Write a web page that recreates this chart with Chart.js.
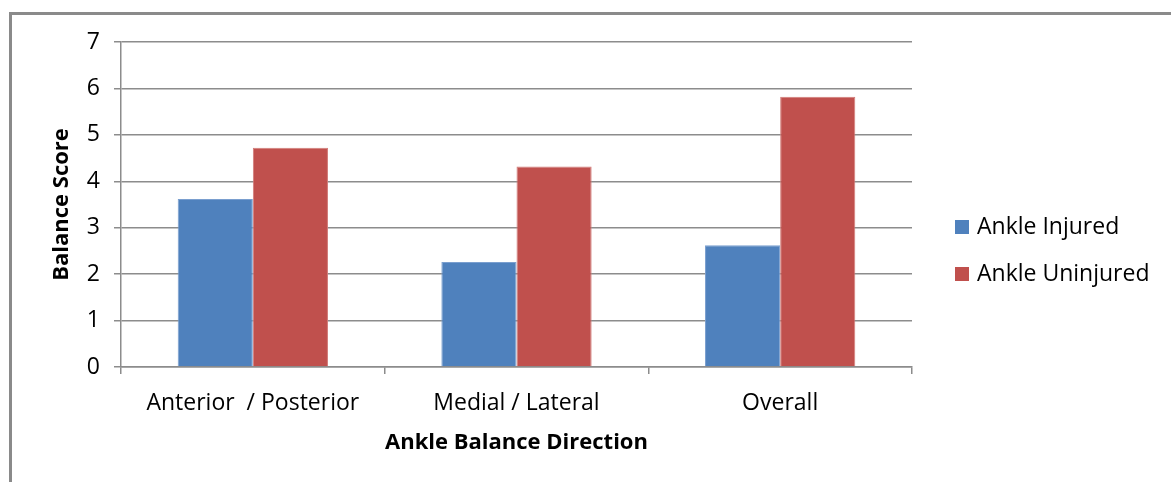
<!DOCTYPE html>
<html>
<head>
<meta charset="utf-8">
<script src="https://cdn.jsdelivr.net/npm/chart.js@4/dist/chart.umd.min.js"></script>
<style>
html,body{margin:0;padding:0;background:#fff;}
#wrap{width:1171px;height:482px;position:relative;}
</style>
</head>
<body>
<div id="wrap"><canvas id="c" width="1171" height="482"></canvas></div>
<script>
const categories = ['Anterior  / Posterior', 'Medial / Lateral', 'Overall'];
const injured = [3.62, 2.26, 2.62];
const uninjured = [4.72, 4.32, 5.82];
const seriesNames = ['Ankle Injured', 'Ankle Uninjured'];
const yTicks = [0, 1, 2, 3, 4, 5, 6, 7];
const xTitle = 'Ankle Balance Direction';
const yTitle = 'Balance Score';

const FONT = "'Open Sans', sans-serif";
const GRID = '#8c8c8c';

const framePlugin = {
  id: 'frame',
  beforeDraw(chart) {
    const ctx = chart.ctx;
    ctx.save();
    ctx.strokeStyle = '#8a8a8a';
    ctx.lineWidth = 3;
    ctx.beginPath();
    ctx.moveTo(10.5, 482);
    ctx.lineTo(10.5, 13.5);
    ctx.lineTo(1171, 13.5);
    ctx.stroke();
    ctx.restore();
  }
};

const legendPlugin = {
  id: 'customLegend',
  afterDraw(chart) {
    const ctx = chart.ctx;
    ctx.save();
    ctx.font = "23px " + FONT;
    ctx.textBaseline = 'middle';
    ctx.textAlign = 'left';
    chart.data.datasets.forEach((ds, i) => {
      const y = 227 + i * 47;
      ctx.fillStyle = ds.backgroundColor;
      ctx.fillRect(955, y - 7, 14, 14);
      ctx.fillStyle = '#000';
      ctx.fillText(ds.label, 977, y);
    });
    ctx.restore();
  }
};

new Chart(document.getElementById('c'), {
  type: 'bar',
  data: {
    labels: categories,
    datasets: [
      { label: seriesNames[0], data: injured, backgroundColor: '#4F81BD', borderColor: '#7a9fcf', borderWidth: 1, borderSkipped: 'bottom' },
      { label: seriesNames[1], data: uninjured, backgroundColor: '#C0504D', borderColor: '#d27b78', borderWidth: 1, borderSkipped: 'bottom' }
    ]
  },
  options: {
    responsive: false,
    animation: false,
    events: [],
    layout: { padding: { left: 40, right: 259, top: 42, bottom: 0 } },
    plugins: { legend: { display: false }, tooltip: { enabled: false } },
    datasets: { bar: { categoryPercentage: 0.57, barPercentage: 1.0 } },
    scales: {
      x: {
        grid: { display: true, drawOnChartArea: false, drawTicks: true, tickLength: 7, color: GRID, lineWidth: 1.5, offset: true },
        border: { display: true, color: GRID, width: 1.5 },
        ticks: { color: '#000', font: { family: FONT, size: 23 }, padding: 16, maxRotation: 0 },
        title: { display: true, text: xTitle, color: '#000', font: { family: FONT, size: 22, weight: 'bold' }, padding: { top: 0, bottom: 26 } },
        afterFit(s) { s.height = 115; }
      },
      y: {
        min: 0, max: 7,
        afterBuildTicks(s) { s.ticks = yTicks.map(v => ({ value: v })); },
        grid: { color: GRID, lineWidth: 1.5, drawTicks: true, tickLength: 7 },
        border: { display: true, color: GRID, width: 1.5 },
        ticks: { color: '#000', font: { family: FONT, size: 23 }, padding: 14 },
        title: { display: true, text: yTitle, color: '#000', font: { family: FONT, size: 22, weight: 'bold' }, padding: { top: 9, bottom: 0 } },
        afterFit(s) { s.width = 81; }
      }
    }
  },
  plugins: [framePlugin, legendPlugin]
});
</script>
</body>
</html>
